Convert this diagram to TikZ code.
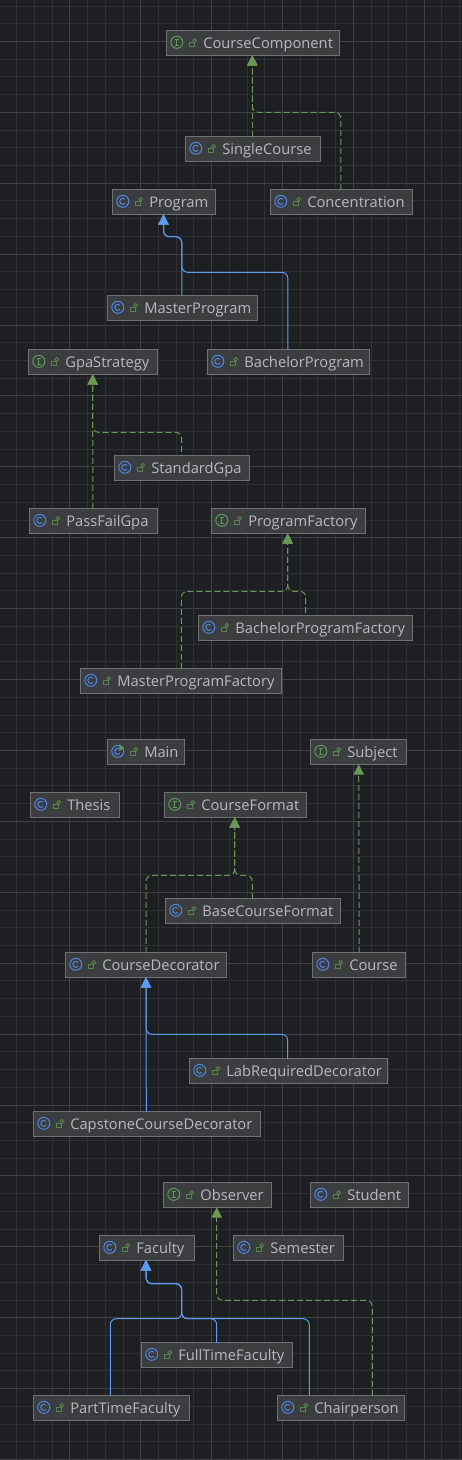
\documentclass[tikz,border=0pt]{standalone}
\usepackage{fontspec}
\setmainfont{Open Sans}
\usetikzlibrary{arrows.meta}
\definecolor{canvas}{HTML}{1E1F22}
\definecolor{gridminor}{HTML}{2F3034}
\definecolor{gridmajor}{HTML}{3E4044}
\definecolor{boxfill}{HTML}{3C3D3F}
\definecolor{boxedge}{HTML}{707173}
\definecolor{boxtext}{HTML}{B8BABF}
\definecolor{iconblue}{HTML}{4E85E6}
\definecolor{icongreen}{HTML}{5C9A5A}
\definecolor{lockgreen}{HTML}{55854C}
\definecolor{edgeblue}{HTML}{5B9CF0}
\definecolor{edgegreen}{HTML}{6A9955}
\tikzset{
  classbox/.style={draw=boxedge,fill=boxfill,line width=1pt,text=boxtext,outer sep=0pt,
    inner xsep=0pt,inner ysep=3.9pt,text height=13.6pt,text depth=3pt,text width=#1pt,align=left,
    font=\fontsize{14.7}{16}\selectfont,execute at begin node=\hspace*{36.5pt}},
  extendsline/.style={edgeblue,line width=1pt,rounded corners=6pt,
    -{Triangle[length=10.5pt,width=10.5pt]}},
  realizeline/.style={edgegreen,line width=1pt,rounded corners=6pt,dash pattern=on 6pt off 3pt,
    -{Triangle[length=10.5pt,width=10.5pt]}},
  pics/lockicon/.style={code={
    \draw[lockgreen,line width=.9pt] (23,-1) rectangle (27.6,3);
    \draw[lockgreen,line width=.9pt] (28,-2.6) circle[radius=1.9pt];
  }},
  pics/classicon/.style={code={
    \draw[iconblue,line width=1pt] (10,-.7) circle[radius=6pt];
    \draw[iconblue,line width=1pt] (12.1,-2.8) arc[start angle=45,end angle=315,radius=3pt];
    \pic {lockicon};
  }},
  pics/ifaceicon/.style={code={
    \draw[icongreen,line width=1pt] (10,-.7) circle[radius=6pt];
    \draw[icongreen,line width=1pt] (8,-3.7) -- (12,-3.7) (10,-3.7) -- (10,2.3) (8,2.3) -- (12,2.3);
    \pic {lockicon};
  }},
  pics/mainicon/.style={code={
    \pic {classicon};
    \fill[icongreen] (11.5,-7.5) -- (16.5,-4.2) -- (11.5,-1) -- cycle;
  }}
}
\begin{document}
\begin{tikzpicture}[x=1pt,y=-1pt]
  \useasboundingbox (0,0) rectangle (462,1460);
  \fill[canvas] (0,0) rectangle (462,1460);
  % grid
  \foreach \i in {0,...,25}
    \draw[gridminor,line width=1pt] ({floor(16.7+17.72*\i)+.5},0) -- ({floor(16.7+17.72*\i)+.5},1460);
  \foreach \i in {0,...,82}
    \draw[gridminor,line width=1pt] (0,{floor(6+17.727*\i)+.5}) -- (462,{floor(6+17.727*\i)+.5});
  \foreach \i in {0,...,6}
    \draw[gridmajor,line width=1pt] ({floor(69.9+70.88*\i)+.5},0) -- ({floor(69.9+70.88*\i)+.5},1460);
  \foreach \i in {0,...,20}
    \draw[gridmajor,line width=1pt] (0,{floor(41.4+70.91*\i)+.5}) -- (462,{floor(41.4+70.91*\i)+.5});

  \node[classbox=172.4] (component) at (253,43) {CourseComponent};
  \node[classbox=134.4] (single) at (253,149) {SingleCourse};
  \node[classbox=102.4] (program) at (164,202) {Program};
  \node[classbox=141.4] (concentration) at (341.5,202) {Concentration};
  \node[classbox=149.4] (master) at (182.5,308) {MasterProgram};
  \node[classbox=161.4] (bachelor) at (288.5,362) {BachelorProgram};
  \node[classbox=129] (gpa) at (93.3,362) {GpaStrategy};
  \node[classbox=134.4] (standard) at (182,468) {StandardGpa};
  \node[classbox=127.4] (passfail) at (93.5,521) {PassFailGpa};
  \node[classbox=153.4] (pfactory) at (288.5,521) {ProgramFactory};
  \node[classbox=213.4] (bfactory) at (305.5,628) {BachelorProgramFactory};
  \node[classbox=201] (mfactory) at (181.3,681) {MasterProgramFactory};
  \node[classbox=76.4] (main) at (146,752) {Main};
  \node[classbox=95.4] (subject) at (358.5,752) {Subject};
  \node[classbox=88.4] (thesis) at (75,805) {Thesis};
  \node[classbox=141.4] (format) at (235.5,805) {CourseFormat};
  \node[classbox=174.4] (basefmt) at (253,911) {BaseCourseFormat};
  \node[classbox=160.4] (decorator) at (146,965) {CourseDecorator};
  \node[classbox=92.4] (course) at (359,965) {Course};
  \node[classbox=197.4] (lab) at (288.5,1071) {LabRequiredDecorator};
  \node[classbox=226.4] (capstone) at (147,1124) {CapstoneCourseDecorator};
  \node[classbox=107.4] (observer) at (217.5,1195) {Observer};
  \node[classbox=97.4] (student) at (359.5,1195) {Student};
  \node[classbox=94.4] (faculty) at (147,1248) {Faculty};
  \node[classbox=109.4] (semester) at (288.5,1248) {Semester};
  \node[classbox=150.4] (fulltime) at (217,1355) {FullTimeFaculty};
  \node[classbox=155.4] (parttime) at (111.5,1408) {PartTimeFaculty};
  \node[classbox=126.4] (chair) at (341,1408) {Chairperson};

  % icons
  \foreach \n in {single,program,concentration,master,bachelor,standard,passfail,bfactory,mfactory,
      thesis,basefmt,decorator,course,lab,capstone,student,faculty,semester,fulltime,parttime,chair}
    \pic at (\n.west) {classicon};
  \foreach \n in {component,gpa,pfactory,subject,format,observer}
    \pic at (\n.west) {ifaceicon};
  \pic at (main.west) {mainicon};

  % bends
  \coordinate (compJoin) at (252.3,112.3);
  \coordinate (progBend) at (181.8,236.7);
  \coordinate (progJoin) at (181.8,272.3);
  \coordinate (gpaJoin) at (92.7,432.3);
  \coordinate (pfactJoin) at (287.7,591.3);
  \coordinate (fmtJoin) at (234.7,875.3);
  \coordinate (decJoin) at (146.2,1034.3);
  \coordinate (facBend) at (181.7,1283.7);
  \coordinate (facJoin) at (181.7,1318.7);
  \coordinate (obsBend) at (216.7,1300.3);

  % edges
  \draw[realizeline] ([xshift=-.7pt]single.north) -- ([xshift=-.7pt]component.south);
  \draw[realizeline] ([xshift=-.7pt]concentration.north) |- (compJoin) -- ([xshift=-.7pt]component.south);
  \draw[extendsline] ([xshift=-.7pt]master.north) -- (progBend) -| ([xshift=-.5pt]program.south);
  \draw[extendsline] ([xshift=-.7pt]bachelor.north) |- (progJoin) -- (progBend) -| ([xshift=-.5pt]program.south);
  \draw[realizeline] ([xshift=-.7pt]passfail.north) -- ([xshift=-.6pt]gpa.south);
  \draw[realizeline,dash phase=5.1pt] ([xshift=-.3pt]standard.north) |- (gpaJoin) -- ([xshift=-.6pt]gpa.south);
  \draw[realizeline,dash phase=6.4pt] ([xshift=.2pt]bfactory.north) |- (pfactJoin) -- ([xshift=-.8pt]pfactory.south);
  \draw[realizeline] ([xshift=0pt]mfactory.north) |- (pfactJoin) -- ([xshift=-.8pt]pfactory.south);
  \draw[realizeline] ([xshift=.2pt]course.north) -- ([xshift=.2pt]subject.south);
  \draw[realizeline] ([xshift=-.7pt]basefmt.north) |- (fmtJoin) -- ([xshift=-.8pt]format.south);
  \draw[realizeline] (decorator.north) |- (fmtJoin) -- ([xshift=-.8pt]format.south);
  \draw[extendsline] ([xshift=-.7pt]capstone.north) -- (decorator.south);
  \draw[extendsline] ([xshift=-.8pt]lab.north) |- (decJoin) -- (decorator.south);
  \draw[realizeline] ([xshift=31.3pt]chair.north) |- (obsBend) -- ([xshift=-.8pt]observer.south);
  \draw[extendsline] ([xshift=-1.2pt]parttime.north) |- (facJoin) -- (facBend) -| ([xshift=-1pt]faculty.south);
  \draw[extendsline] ([xshift=-.3pt]fulltime.north) |- (facJoin) -- (facBend) -| ([xshift=-1pt]faculty.south);
  \draw[extendsline] ([xshift=-31.7pt]chair.north) |- (facJoin) -- (facBend) -| ([xshift=-1pt]faculty.south);
\end{tikzpicture}
\end{document}
